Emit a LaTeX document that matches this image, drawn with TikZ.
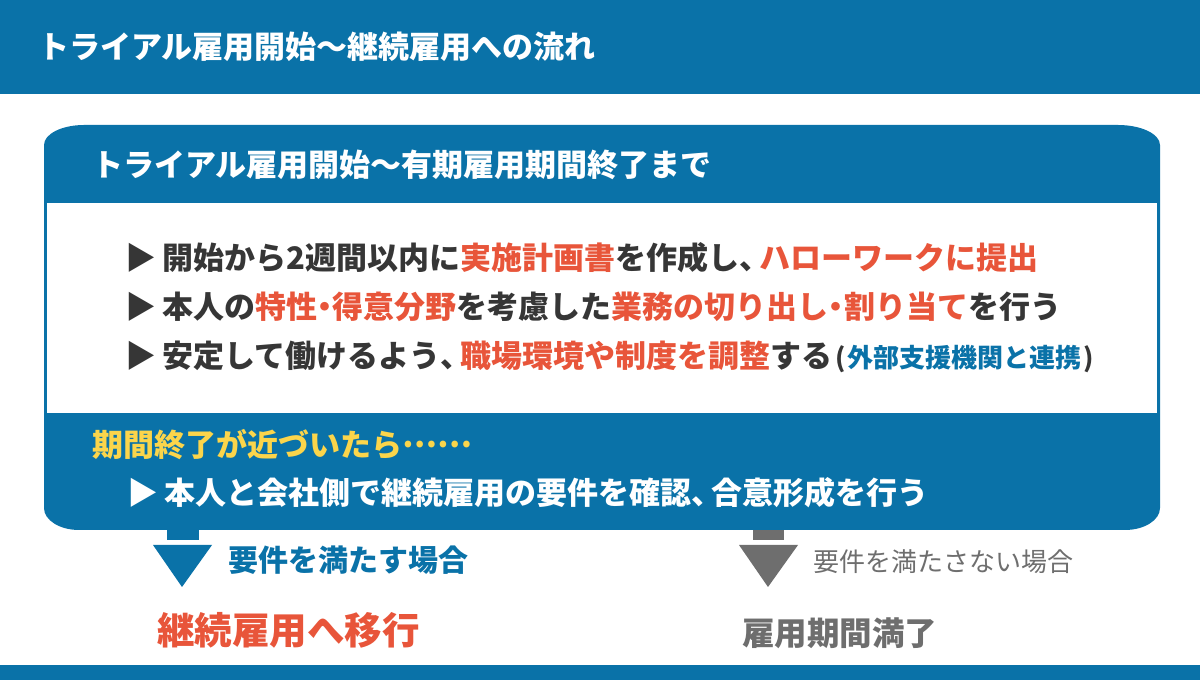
\documentclass[tikz,border=0pt]{standalone}
\usepackage{fontspec}
\setmainfont{Noto Sans CJK JP}
\definecolor{blu}{HTML}{0A72A8}
\definecolor{rosso}{HTML}{E8553A}
\definecolor{giallo}{HTML}{FBD54B}
\definecolor{scuro}{HTML}{363636}
\definecolor{grigio}{HTML}{6E6E6E}
\newcommand{\puntino}{\hspace{-0.25em}・\hspace{-0.25em}}
\newcommand{\virgola}{、\hspace{-0.35em}}
\begin{document}
\begin{tikzpicture}[x=1pt, y=1pt,
		testo/.style={inner sep=0pt, anchor=west, font=\bfseries\fontsize{31}{37}\selectfont},
		freccia/.style={fill=#1}]
		\useasboundingbox (0,0) rectangle (1200,680);
		% fasce in alto e in basso
		\fill[blu] (0,586) rectangle (1200,680);
		\fill[blu] (0,0) rectangle (1200,15);
		\node[testo, white] (titolo) at (38,633) {トライアル雇用開始〜継続雇用への流れ};
		% riquadro principale
		\fill[blu]
		(44,535) arc[start angle=180, end angle=90, x radius=40, y radius=20] --
		(1118,555) arc[start angle=90, end angle=0, x radius=42, y radius=20] --
		(1160,172) arc[start angle=0, end angle=-90, x radius=35, y radius=22] --
		(79,150) arc[start angle=270, end angle=180, x radius=35, y radius=22] --
		cycle;
		\fill[white] (47,267) rectangle (1157,477);
		\node[testo, white] (intestazione) at (92,515) {トライアル雇用開始〜有期雇用期間終了まで};
		% punti elenco
		\node[testo, scuro] (punto1) at (125,422) {▶\hspace{6pt}開始から2週間以内に\textcolor{rosso}{実施計画書}を作成し\virgola\textcolor{rosso}{ハローワークに提出}};
		\node[testo, scuro] (punto2) at (125,373) {▶\hspace{6pt}本人の\textcolor{rosso}{特性\puntino 得意分野}を考慮した\textcolor{rosso}{業務の切り出し\puntino 割り当て}を行う};
		\node[testo, scuro] (punto3) at (125,323) {▶\hspace{6pt}安定して働けるよう\virgola\textcolor{rosso}{職場環境や制度を調整}する{\fontsize{26}{31}\selectfont\hspace{3pt}(\hspace{2pt}\textcolor{blu}{外部支援機関と連携}\hspace{2pt})}};
		% fine del periodo
		\node[testo, giallo] (avviso) at (92,235) {期間終了が近づいたら\raisebox{0.3em}{……}};
		\node[testo, white] (punto4) at (127,187) {▶\hspace{6pt}本人と会社側で継続雇用の要件を確認\virgola 合意形成を行う};
		% frecce verso il basso
		\fill[freccia=blu] (167,140) rectangle (199,150);
		\fill[freccia=blu] (153,135) -- (212,135) -- (182,93) -- cycle;
		\fill[freccia=grigio] (753,140) rectangle (784,150);
		\fill[freccia=grigio] (739,135) -- (798,135) -- (768,93) -- cycle;
		\node[testo, blu, font=\bfseries\fontsize{30}{36}\selectfont] (si) at (228,120) {要件を満たす場合};
		\node[testo, grigio, font=\fontsize{26}{31}\selectfont] (no) at (813,118) {要件を満たさない場合};
		% esiti
		\node[testo, rosso, font=\bfseries\fontsize{37.5}{44}\selectfont] (continua) at (157,50) {継続雇用へ移行};
		\node[testo, grigio, font=\bfseries\fontsize{32.5}{39}\selectfont] (termina) at (742,47) {雇用期間満了};
	\end{tikzpicture}
\end{document}
